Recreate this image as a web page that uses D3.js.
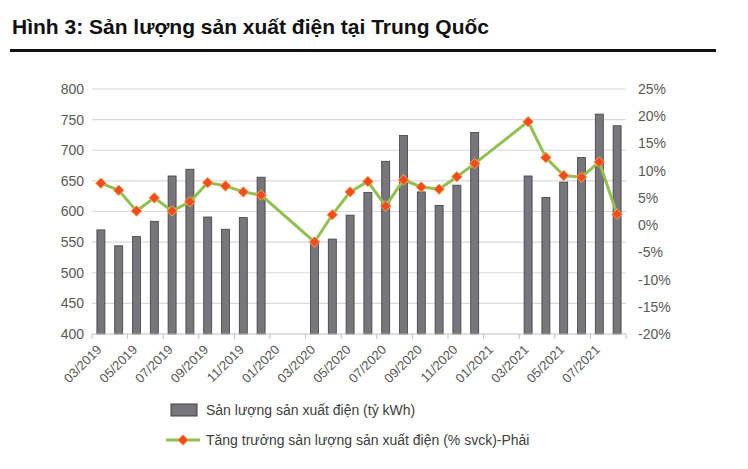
<!DOCTYPE html>
<html><head><meta charset="utf-8">
<script src="https://cdn.jsdelivr.net/npm/d3@7"></script>
<style>body{margin:0;background:#fff;font-family:Arial,"Liberation Sans",sans-serif}</style>
</head><body><div id="chart"></div>
<script>
// months 03/2019 .. 08/2021 (Jan/Feb reported together, so empty)
const months = [];
for (let y = 2019; y <= 2021; y++) for (let m = 1; m <= 12; m++) {
  if ((y === 2019 && m < 3) || (y === 2021 && m > 8)) continue;
  months.push(String(m).padStart(2, "0") + "/" + y);
}
const output = [570,544,559,584,658,669,591,571,590,656, null,null,
  550,555,594,631,682,724,632,610,643,729, null,null,
  658,623,648,688,759,740];
const growth = [7.7,6.4,2.6,5.0,2.6,4.3,7.8,7.2,6.1,5.5, null,null,
  -3.1,1.9,6.1,8.0,3.5,8.3,7.0,6.6,8.9,11.3, null,null,
  19.0,12.4,9.1,8.8,11.6,2.0];
const leftTicks = [400,450,500,550,600,650,700,750,800];
const rightTicks = [-20,-15,-10,-5,0,5,10,15,20,25];

const W = 748, H = 469;
const m = {left: 92, right: 122, top: 89, bottom: 135};
const svg = d3.select("#chart").append("svg").attr("width", W).attr("height", H);

svg.append("text").attr("x", 12).attr("y", 34)
  .style("font-size", "21px").style("font-weight", "700").style("fill", "#111")
  .text("Hình 3: Sản lượng sản xuất điện tại Trung Quốc");
svg.append("rect").attr("x", 10).attr("y", 49).attr("width", 706).attr("height", 3).attr("fill", "#111");

const x = d3.scaleBand().domain(months).range([m.left, W - m.right]).paddingInner(0.4).paddingOuter(0.2);
const step = x.step();
const x0 = m.left;
const y = d3.scaleLinear().domain([400, 800]).range([H - m.bottom, m.top]);
const y2 = d3.scaleLinear().domain([-20, 25]).range([H - m.bottom, m.top]);

// grid
svg.append("g").selectAll("line").data(leftTicks.slice(1)).join("line")
  .attr("x1", m.left).attr("x2", W - m.right)
  .attr("y1", d => y(d)).attr("y2", d => y(d))
  .attr("stroke", "#d9d9d9").attr("stroke-width", 1.2);

// bars
const bw = 8;
svg.append("g").selectAll("rect").data(months.map((d, i) => ({d, v: output[i]})).filter(o => o.v != null))
  .join("rect")
  .attr("x", o => x(o.d) + x.bandwidth() / 2 - bw / 2).attr("width", bw)
  .attr("y", o => y(o.v)).attr("height", o => y(400) - y(o.v))
  .attr("fill", "#77777b").attr("stroke", "#3f3f42").attr("stroke-width", 0.8);

// axes
const axisCol = "#595959";
const yl = svg.append("g").attr("transform", `translate(${m.left - 8},0)`)
  .call(d3.axisLeft(y).tickValues(leftTicks).tickSize(0).tickPadding(0));
yl.select(".domain").remove();
yl.selectAll("text").style("font-size", "14px").style("fill", axisCol).style("font-family", "Arial");

const yr = svg.append("g").attr("transform", `translate(${W - m.right + 12},0)`)
  .call(d3.axisRight(y2).tickValues(rightTicks).tickSize(0).tickPadding(0).tickFormat(d => d + "%"));
yr.select(".domain").remove();
yr.selectAll("text").style("font-size", "14px").style("fill", axisCol).style("font-family", "Arial");

// bottom axis: ticks on category boundaries every 2 months
const base = y(400);
svg.append("line").attr("x1", m.left).attr("x2", W - m.right).attr("y1", base).attr("y2", base)
  .attr("stroke", "#bfbfbf");
const tickIdx = d3.range(0, months.length + 1, 2);
svg.append("g").selectAll("line").data(tickIdx).join("line")
  .attr("x1", i => x0 + i * step).attr("x2", i => x0 + i * step)
  .attr("y1", base).attr("y2", base + 5).attr("stroke", "#bfbfbf");
svg.append("g").selectAll("text").data(tickIdx.filter(i => i < months.length)).join("text")
  .attr("transform", i => `translate(${x0 + i * step + 4},${base + 10}) rotate(-45)`)
  .attr("text-anchor", "end").attr("dy", "0.7em")
  .style("font-size", "13px").style("fill", axisCol)
  .text(i => months[i]);

// growth line (connects across the gaps)
const pts = months.map((d, i) => ({d, v: growth[i]})).filter(o => o.v != null);
svg.append("path").datum(pts)
  .attr("d", d3.line().x(o => x(o.d) + x.bandwidth() / 2).y(o => y2(o.v)))
  .attr("fill", "none").attr("stroke", "#92c04f").attr("stroke-width", 3);
svg.append("g").selectAll("path").data(pts).join("path")
  .attr("transform", o => `translate(${x(o.d) + x.bandwidth() / 2},${y2(o.v)})`)
  .attr("d", d3.symbol(d3.symbolDiamond2, 70))
  .attr("fill", "#f24b1f").attr("stroke", "#f7a24a").attr("stroke-width", 1);

// legend
const lg = svg.append("g");
lg.append("rect").attr("x", 171).attr("y", 404).attr("width", 26).attr("height", 12)
  .attr("fill", "#77777b").attr("stroke", "#3f3f42");
lg.append("text").attr("x", 206).attr("y", 415).style("font-size", "14px").style("fill", "#404040")
  .text("Sản lượng sản xuất điện (tỷ kWh)");
lg.append("line").attr("x1", 166).attr("x2", 200).attr("y1", 440).attr("y2", 440)
  .attr("stroke", "#92c04f").attr("stroke-width", 3);
lg.append("path").attr("transform", "translate(183,440)").attr("d", d3.symbol(d3.symbolDiamond2, 70))
  .attr("fill", "#f24b1f").attr("stroke", "#f7a24a");
lg.append("text").attr("x", 206).attr("y", 445).style("font-size", "14px").style("fill", "#404040")
  .text("Tăng trưởng sản lượng sản xuất điện (% svck)-Phải");
</script></body></html>
